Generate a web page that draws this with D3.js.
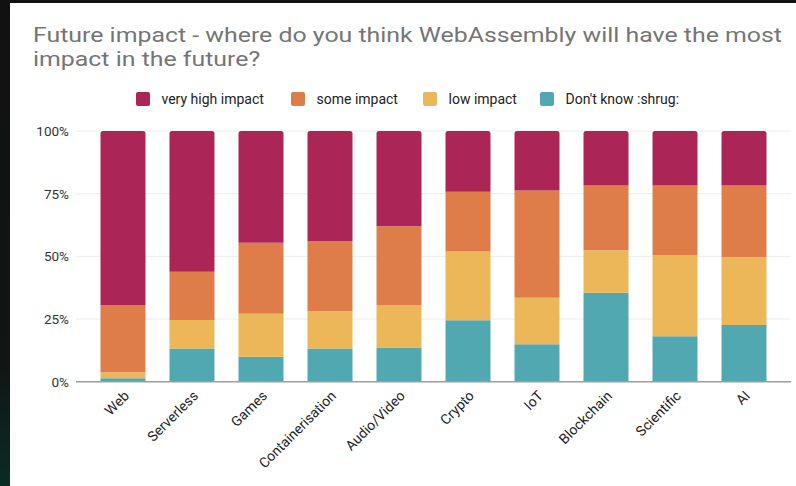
<!DOCTYPE html>
<html>
<head>
<meta charset="utf-8">
<script src="https://cdn.jsdelivr.net/npm/d3@7"></script>
<style>
  html, body { margin: 0; padding: 0; background: #111; }
  svg { display: block; }
  text { font-family: Roboto, "Noto Sans", sans-serif; }
</style>
</head>
<body>
<svg id="chart" width="796" height="486"></svg>
<script>
// ---- data (percent of respondents) ----
const categories = ["Web", "Serverless", "Games", "Containerisation", "Audio/Video",
                    "Crypto", "IoT", "Blockchain", "Scientific", "AI"];
const seriesNames = ["very high impact", "some impact", "low impact", "Don't know :shrug:"];
const veryHigh = [69.4, 56.1, 44.6, 44.0, 38.0, 24.2, 23.7, 21.7, 21.7, 21.7];
const someImpact = [26.8, 19.3, 28.3, 27.9, 31.4, 23.9, 42.8, 25.9, 27.8, 28.7];
const lowImpact = [2.4, 11.4, 17.1, 14.9, 17.0, 27.4, 18.6, 16.9, 32.4, 27.0];
const dontKnow = [1.4, 13.2, 10.0, 13.2, 13.6, 24.5, 14.9, 35.5, 18.1, 22.6];
const yTicks = [0, 25, 50, 75, 100];
const colors = ["#ab2556", "#de7c4a", "#ecb759", "#52a8b1"];

const svg = d3.select("#chart");

// background
const defs = svg.append("defs");
const grad = defs.append("linearGradient").attr("id", "side").attr("x1", 0).attr("y1", 0).attr("x2", 0).attr("y2", 1);
grad.append("stop").attr("offset", "0%").attr("stop-color", "#111111");
grad.append("stop").attr("offset", "75%").attr("stop-color", "#111514");
grad.append("stop").attr("offset", "100%").attr("stop-color", "#0b2b25");
svg.append("rect").attr("width", 796).attr("height", 486).attr("fill", "url(#side)");
svg.append("rect").attr("x", 10).attr("y", 3).attr("width", 786).attr("height", 483).attr("fill", "#ffffff");

// title
const titleLines = ["Future impact - where do you think WebAssembly will have the most",
                    "impact in the future?"];
const fs = 20.5;
const title = svg.append("g");
const t1 = title.append("text").attr("x", 33).attr("y", 42).attr("fill", "#757575")
  .attr("font-size", fs).text(titleLines[0]);
const w1 = t1.node().getComputedTextLength();
const stretch = 749 / w1;
t1.attr("textLength", 749).attr("lengthAdjust", "spacingAndGlyphs");
const t2 = title.append("text").attr("x", 33).attr("y", 65.5).attr("fill", "#757575")
  .attr("font-size", fs).text(titleLines[1]);
t2.attr("textLength", t2.node().getComputedTextLength() * stretch).attr("lengthAdjust", "spacingAndGlyphs");

// scales
const x = d3.scaleBand().domain(categories).range([76, 791]).paddingInner(0.348).paddingOuter(0.355);
const y = d3.scaleLinear().domain([0, 100]).range([381.7, 131]);

// grid
svg.append("g").selectAll("line").data(yTicks.filter(d => d > 0)).join("line")
  .attr("x1", 76).attr("x2", 791).attr("y1", d => y(d)).attr("y2", d => y(d))
  .attr("stroke", "#ececec").attr("stroke-width", 1);

// y axis labels
const yAxis = d3.axisLeft(y).tickValues(yTicks).tickSize(0).tickPadding(0).tickFormat(d => d + "%");
const ya = svg.append("g").attr("transform", "translate(69,0)").call(yAxis);
ya.select(".domain").remove();
ya.selectAll("text").attr("font-size", 13.5).attr("fill", "#333").attr("font-family", "Roboto, sans-serif");

// stacked bars
const rows = categories.map((c, i) => ({
  cat: c, dk: dontKnow[i], low: lowImpact[i], some: someImpact[i], vh: veryHigh[i]
}));
const keys = ["dk", "low", "some", "vh"];
const keyColor = { dk: colors[3], low: colors[2], some: colors[1], vh: colors[0] };
const stacked = d3.stack().keys(keys)(rows);

const bw = x.bandwidth();
const r = 2.5;
stacked.forEach(layer => {
  const isTop = layer.key === "vh";
  svg.append("g").selectAll("path").data(layer).join("path")
    .attr("fill", keyColor[layer.key])
    .attr("d", d => {
      const x0 = x(d.data.cat), x1 = x0 + bw;
      const yt = y(d[1]), yb = y(d[0]);
      if (isTop) {
        return `M${x0},${yb}V${yt + r}Q${x0},${yt} ${x0 + r},${yt}H${x1 - r}Q${x1},${yt} ${x1},${yt + r}V${yb}Z`;
      }
      return `M${x0},${yb}V${yt}H${x1}V${yb}Z`;
    });
});

// baseline
svg.append("line").attr("x1", 76).attr("x2", 791).attr("y1", y(0)).attr("y2", y(0))
  .attr("stroke", "#9e9e9e").attr("stroke-width", 1.5);

// x labels
const xAxis = d3.axisBottom(x).tickSize(0).tickPadding(0);
const xa = svg.append("g").attr("transform", `translate(0,${y(0)})`).call(xAxis);
xa.select(".domain").remove();
xa.selectAll("text")
  .attr("font-size", 14).attr("fill", "#222").attr("font-family", "Roboto, sans-serif")
  .attr("text-anchor", "end").attr("dy", null)
  .attr("transform", "translate(7,15) rotate(-45)");

// legend
const legendX = [136, 291, 423, 540];
const lg = svg.append("g");
seriesNames.forEach((n, i) => {
  lg.append("rect").attr("x", legendX[i]).attr("y", 92).attr("width", 14).attr("height", 14)
    .attr("rx", 2).attr("fill", colors[i]);
  lg.append("text").attr("x", legendX[i] + 25.5).attr("y", 104).attr("font-size", 14)
    .attr("fill", "#222").text(n);
});
</script>
</body>
</html>
